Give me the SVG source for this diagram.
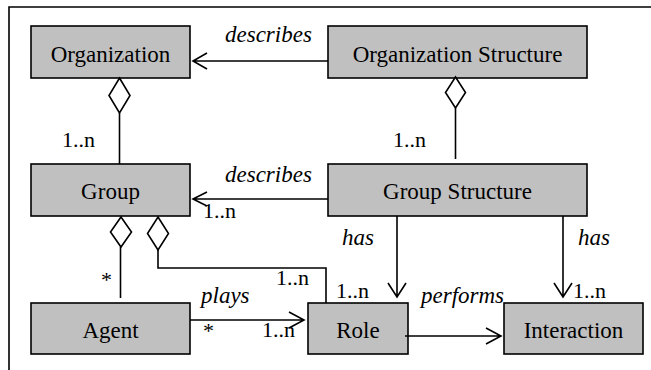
<svg xmlns="http://www.w3.org/2000/svg" width="651" height="370" viewBox="0 0 651 370" font-family="'Liberation Serif', 'DejaVu Serif', serif">
<style>
.box{fill:#c0c0c0;stroke:#000;stroke-width:1.6}
text{font-family:'Liberation Serif','DejaVu Serif',serif;fill:#000}
.nt{font-size:23px;text-anchor:middle}
.lb{font-size:22px}
.it{font-style:italic;font-size:23px}
.ln{fill:none;stroke:#000;stroke-width:1.6}
.dm{fill:#fff;stroke:#000;stroke-width:1.6}
</style>
<rect width="651" height="370" fill="#fff"/>
<path class="ln" d="M9,370 V7 H651"/>
<g id="organization"><rect class="box" x="31" y="26" width="159" height="52"/><text class="nt" x="110.5" y="62">Organization</text></g>
<g id="organization-structure"><rect class="box" x="328" y="26" width="259" height="52"/><text class="nt" x="457.5" y="62">Organization Structure</text></g>
<g id="group"><rect class="box" x="31" y="164" width="159" height="52"/><text class="nt" x="110.5" y="199">Group</text></g>
<g id="group-structure"><rect class="box" x="328" y="164" width="259" height="52"/><text class="nt" x="457.5" y="199">Group Structure</text></g>
<g id="agent"><rect class="box" x="31" y="303" width="159" height="51"/><text class="nt" x="110.5" y="338">Agent</text></g>
<g id="role"><rect class="box" x="308" y="303" width="100" height="51"/><text class="nt" x="358" y="338">Role</text></g>
<g id="interaction"><rect class="box" x="504" y="303" width="139" height="51"/><text class="nt" x="573.5" y="338">Interaction</text></g>
<g id="connectors">
<path class="ln" d="M328,61 H193 M207,53 L193,61 L207,69"/>
<text class="lb it" x="225" y="42">describes</text>
<path class="ln" d="M328,199 H193 M207,192 L193,199 L207,206"/>
<text class="lb it" x="225" y="182">describes</text>
<text class="lb" x="203" y="218">1..n</text>
<path class="ln" d="M119.5,113 V164"/>
<path class="dm" d="M119.5,78 L130,95.5 L119.5,113 L109,95.5 Z"/>
<text class="lb" x="62" y="147">1..n</text>
<path class="ln" d="M455.5,108 V159"/>
<path class="dm" d="M455.5,77 L465.5,92.5 L455.5,108 L445.5,92.5 Z"/>
<text class="lb" x="393" y="147">1..n</text>
<path class="ln" d="M120.5,247 V298"/>
<path class="dm" d="M121,217 L131.5,232 L121,247 L110.5,232 Z"/>
<text class="lb" x="101" y="287">*</text>
<path class="ln" d="M158,250 V268 H326 V303"/>
<path class="dm" d="M158,217 L168.5,233.5 L158,250 L147.5,233.5 Z"/>
<text class="lb" x="276" y="285">1..n</text>
<text class="lb" x="336" y="298">1..n</text>
<path class="ln" d="M190,320 H304 M289,312 L304,320 L289,328"/>
<text class="lb it" x="201" y="303">plays</text>
<text class="lb" x="203" y="338">*</text>
<text class="lb" x="262" y="337">1..n</text>
<path class="ln" d="M397,216 V297 M388,283 L397,297 L406,283"/>
<text class="lb it" x="342" y="245">has</text>
<path class="ln" d="M563,216 V297 M554,283 L563,297 L572,283"/>
<text class="lb it" x="578" y="245">has</text>
<text class="lb" x="573" y="298">1..n</text>
<path class="ln" d="M405,336 H501 M486,328 L501,336 L486,344"/>
<text class="lb it" x="421" y="303">performs</text>
</g>
</svg>
